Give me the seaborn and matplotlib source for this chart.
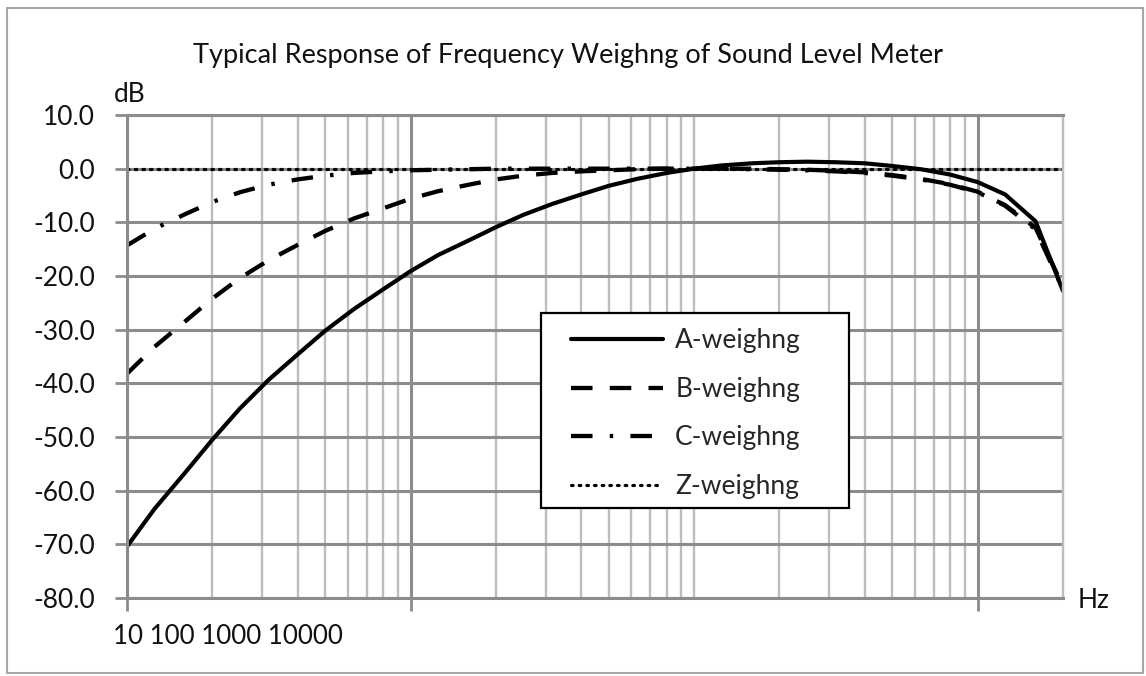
import matplotlib.pyplot as plt
import matplotlib.ticker as mticker
from matplotlib.patches import Rectangle
import seaborn as sns

# --- data ---
freq_hz = [10, 12.5, 16, 20, 25, 31.5, 40, 50, 63, 80,
           100, 125, 160, 200, 250, 315, 400, 500, 630, 800,
           1000, 1250, 1600, 2000, 2500, 3150, 4000, 5000, 6300, 8000,
           10000, 12500, 16000, 20000]
a_weighting = [-70.4, -63.4, -56.7, -50.5, -44.7, -39.4, -34.6, -30.2, -26.2, -22.5,
               -19.1, -16.1, -13.4, -10.9, -8.6, -6.6, -4.8, -3.2, -1.9, -0.8,
               0.0, 0.6, 1.0, 1.2, 1.3, 1.2, 1.0, 0.5, -0.1, -1.1,
               -2.5, -4.8, -9.8, -22.8]
b_weighting = [-38.2, -33.2, -28.5, -24.2, -20.4, -17.1, -14.2, -11.6, -9.3, -7.4,
               -5.6, -4.2, -3.0, -2.0, -1.3, -0.8, -0.5, -0.3, -0.1, 0.0,
               0.0, 0.0, 0.0, -0.1, -0.2, -0.4, -0.7, -1.2, -1.9, -2.9,
               -4.3, -6.8, -11.0, -22.0]
c_weighting = [-14.3, -11.2, -8.5, -6.2, -4.4, -3.0, -2.0, -1.3, -0.8, -0.5,
               -0.3, -0.2, -0.1, 0.0, 0.0, 0.0, 0.0, 0.0, 0.0, 0.0,
               0.0, 0.0, -0.1, -0.2, -0.3, -0.5, -0.8, -1.3, -2.0, -3.0,
               -4.4, -6.9, -11.3, -22.5]
z_weighting = [0.0, 0.0, 0.0, 0.0, 0.0, 0.0, 0.0, 0.0, 0.0, 0.0,
               0.0, 0.0, 0.0, 0.0, 0.0, 0.0, 0.0, 0.0, 0.0, 0.0,
               0.0, 0.0, 0.0, 0.0, 0.0, 0.0, 0.0, 0.0, 0.0, 0.0,
               0.0, 0.0, 0.0, 0.0]
y_ticks = [10, 0, -10, -20, -30, -40, -50, -60, -70, -80]
x_label_text = "10 100 1000 10000"
titulo = "Typical Response of Frequency Weighng of Sound Level Meter"

sns.set_theme(style="white")
plt.rcParams['font.family'] = ['Lato', 'DejaVu Sans']
plt.rcParams['axes.unicode_minus'] = False

W, H = 1146, 676
fig = plt.figure(figsize=(W / 100, H / 100), dpi=100)
fig.patch.set_facecolor('white')
ax = fig.add_axes([127 / W, 1 - 598 / H, 936 / W, 483 / H])

# curves
sns.lineplot(x=freq_hz, y=a_weighting, ax=ax, color='black', lw=3.0,
             solid_joinstyle='round', label='A-weighng')
sns.lineplot(x=freq_hz, y=b_weighting, ax=ax, color='black', lw=3.1,
             linestyle=(0, (5.0, 4.0)), label='B-weighng')
sns.lineplot(x=freq_hz, y=c_weighting, ax=ax, color='black', lw=3.1,
             linestyle=(0, (5.0, 4.0, 0.8, 4.0)), label='C-weighng')
sns.lineplot(x=freq_hz, y=z_weighting, ax=ax, color='black', lw=2.3,
             linestyle=(0, (0.5, 1.9)), dash_capstyle='round', label='Z-weighng')

# axes
ax.set_xscale('log')
ax.set_xlim(10, 20000)
ax.set_ylim(-80, 10)
ax.set_yticks(y_ticks)
ax.yaxis.set_major_formatter(mticker.FormatStrFormatter('%.1f'))
ax.xaxis.set_major_locator(mticker.FixedLocator([10, 100, 10000]))
minors = [m * 10 ** e for e in (1, 2, 3) for m in range(2, 10)] + [1000]
ax.xaxis.set_minor_locator(mticker.FixedLocator(minors))
ax.xaxis.set_major_formatter(mticker.NullFormatter())
ax.xaxis.set_minor_formatter(mticker.NullFormatter())
ax.set_xlabel('')
ax.set_ylabel('')

ax.set_axisbelow(True)
ax.grid(which='major', axis='both', color='#8c8c8c', lw=2.2)
ax.grid(which='minor', axis='x', color='#bdbdbd', lw=1.7)
ax.tick_params(axis='y', which='major', direction='out', length=9, width=2,
               color='#8c8c8c', pad=14, labelsize=19, labelcolor='#111111', left=True)
ax.tick_params(axis='x', which='major', direction='out', length=9, width=2,
               color='#8c8c8c', bottom=True)
ax.tick_params(axis='x', which='minor', length=0)
for lado in ['left', 'bottom', 'top']:
    ax.spines[lado].set_color('#8c8c8c')
    ax.spines[lado].set_linewidth(2.2)
ax.spines['right'].set_color('#bdbdbd')
ax.spines['right'].set_linewidth(1.7)

# legend box
ax.add_patch(Rectangle((414 / 936, 90 / 483), 308 / 936, 195 / 483,
                       transform=ax.transAxes, facecolor='white', edgecolor='black',
                       lw=1.6, zorder=4))
leg = ax.legend(loc='upper left', bbox_to_anchor=(444 / 936, 270 / 483),
                frameon=False, fontsize=19, handlelength=3.5, handletextpad=0.45,
                labelspacing=0.9, borderpad=0, borderaxespad=0)
leg.set_zorder(5)

# texts
fig.text(568 / W, 1 - 55 / H, titulo, ha='center', va='center', fontsize=19.5,
         color='#111111')
fig.text(130 / W, 1 - 95 / H, 'dB', ha='center', va='center', fontsize=19,
         color='#111111')
fig.text(1094 / W, 1 - 600 / H, 'Hz', ha='center', va='center', fontsize=19,
         color='#111111')
fig.text(113 / W, 1 - 637 / H, x_label_text, ha='left', va='center', fontsize=18.6,
         color='#111111')

# outer frame
fig.patches.append(Rectangle((7 / W, 3 / H), 1136 / W, 665 / H, transform=fig.transFigure,
                             fill=False, edgecolor='#a6a6a6', lw=1.5))

plt.savefig('out.png', dpi=100)
